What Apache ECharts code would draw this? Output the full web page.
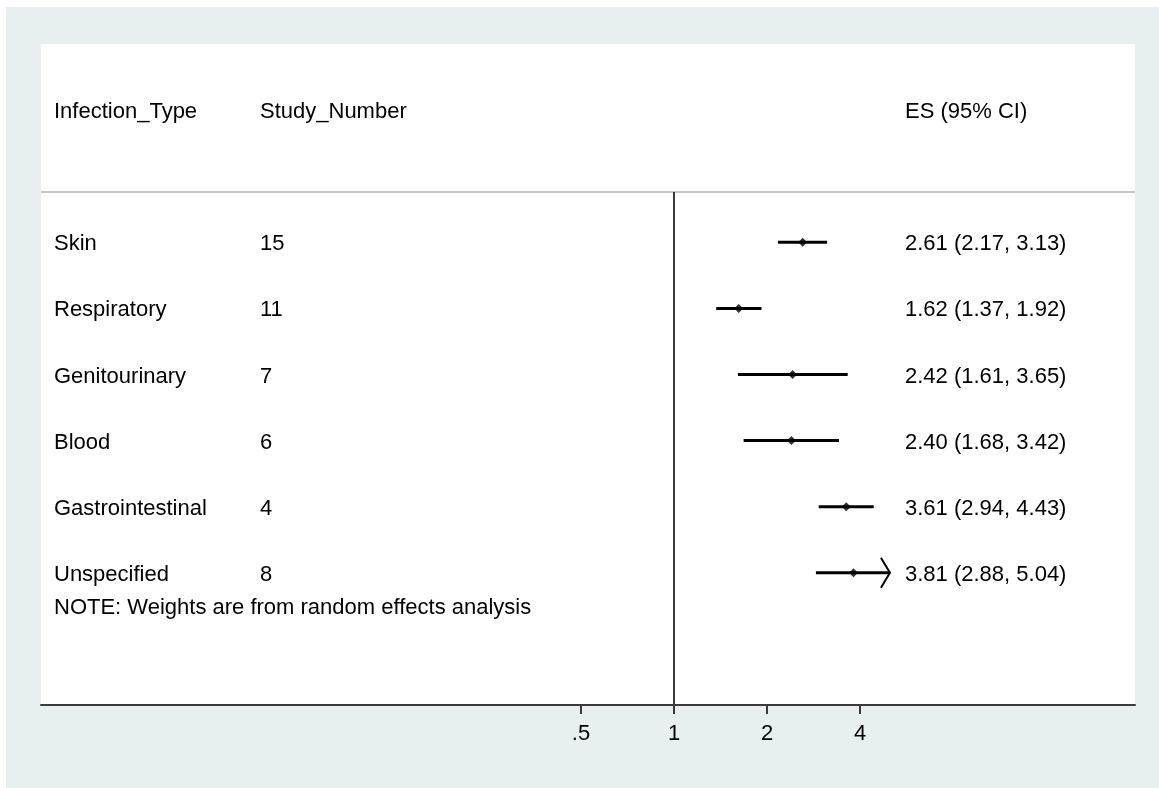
<!DOCTYPE html>
<html>
<head>
<meta charset="utf-8">
<script src="https://cdn.jsdelivr.net/npm/echarts@6/dist/echarts.min.js"></script>
<style>
  html, body { margin: 0; padding: 0; background: #ffffff; }
  #chart { position: absolute; left: 6px; top: 7px; width: 1153px; height: 781px; }
</style>
</head>
<body>
<div id="chart"></div>
<script>
// Subgroup meta-analysis: effect sizes with 95% CIs by infection type
const infectionTypes = ['Skin', 'Respiratory', 'Genitourinary', 'Blood', 'Gastrointestinal', 'Unspecified'];
const studyNumbers = [15, 11, 7, 6, 4, 8];
const esValues = [2.61, 1.62, 2.42, 2.40, 3.61, 3.81];
const ciLower = [2.17, 1.37, 1.61, 1.68, 2.94, 2.88];
const ciUpper = [3.13, 1.92, 3.65, 3.42, 4.43, 5.04];
const tickValues = [0.5, 1, 2, 4];
const tickLabels = ['.5', '1', '2', '4'];
const headers = ['Infection_Type', 'Study_Number', 'ES (95% CI)'];
const noteText = 'NOTE: Weights are from random effects analysis';

// CI lines past this value are cut and finished with an arrow head
const ciClip = 5;

// rows are laid out on a 0..10 vertical scale, first row at the top
const rowY = infectionTypes.map((_, i) => 7 - i);
const headerY = 9;
const separatorY = 7.76;
const noteY = 1.5;

const log2 = v => Math.log(v) / Math.LN2;
const fmt = v => v.toFixed(2);

const FONT = '"Liberation Sans", Arial, Helvetica, sans-serif';
const FS = 22;
const TEXT_DY = 2;
const colX = [13, 219, 864]; // text column offsets from the plot's left edge

const rows = infectionTypes.map((t, i) => [
  log2(esValues[i]), rowY[i], log2(ciLower[i]), log2(Math.min(ciUpper[i], ciClip)),
  ciUpper[i] > ciClip ? 1 : 0, i
]);

const chart = echarts.init(document.getElementById('chart'), null, { renderer: 'canvas' });

const textEl = (s, x, y) => ({
  type: 'text',
  style: { text: s, x: x, y: y + TEXT_DY, verticalAlign: 'middle', font: FS + 'px ' + FONT, fill: '#000' }
});

chart.setOption({
  backgroundColor: '#e8eff1',
  animation: false,
  grid: { left: 35, right: 24, top: 37, bottom: 83, show: true, backgroundColor: '#ffffff', borderWidth: 0 },
  xAxis: {
    type: 'value',
    min: -633 / 93,
    max: 461 / 93,
    splitLine: { show: false },
    axisLine: { show: true, onZero: false, lineStyle: { color: '#3a3a3a', width: 2 } },
    axisTick: { show: true, length: 9, customValues: tickValues.map(log2), lineStyle: { color: '#3a3a3a', width: 2 } },
    axisLabel: {
      customValues: tickValues.map(log2),
      margin: 18,
      fontFamily: FONT, fontSize: FS, color: '#000',
      formatter: v => {
        const k = tickValues.findIndex(t => Math.abs(log2(t) - v) < 1e-6);
        return k >= 0 ? tickLabels[k] : '';
      }
    }
  },
  yAxis: { type: 'value', min: 0, max: 10, show: false },
  series: [
    {
      // table text, separator and null line
      type: 'custom',
      silent: true,
      data: [[0, 0]],
      z: 1,
      renderItem: (params, api) => {
        const cs = params.coordSys;
        const children = [];
        const yH = api.coord([0, headerY])[1];
        headers.forEach((h, k) => children.push(textEl(h, cs.x + colX[k], yH)));
        const ySep = api.coord([0, separatorY])[1];
        children.push({ type: 'line', shape: { x1: cs.x, y1: ySep, x2: cs.x + cs.width, y2: ySep }, style: { stroke: '#c4c4c4', lineWidth: 2 } });
        const nullTop = api.coord([0, separatorY]);
        const nullBot = api.coord([0, 0]);
        children.push({ type: 'line', shape: { x1: nullTop[0], y1: nullTop[1], x2: nullBot[0], y2: nullBot[1] }, style: { stroke: '#3a3a3a', lineWidth: 2 } });
        infectionTypes.forEach((t, i) => {
          const y = api.coord([0, rowY[i]])[1];
          const cells = [t, String(studyNumbers[i]), fmt(esValues[i]) + ' (' + fmt(ciLower[i]) + ', ' + fmt(ciUpper[i]) + ')'];
          cells.forEach((c, k) => children.push(textEl(c, cs.x + colX[k], y)));
        });
        const yN = api.coord([0, noteY])[1];
        children.push(textEl(noteText, cs.x + colX[0], yN));
        return { type: 'group', children };
      }
    },
    {
      // confidence interval lines
      type: 'custom',
      silent: true,
      data: rows,
      z: 2,
      renderItem: (params, api) => {
        const y = api.value(1);
        const p1 = api.coord([api.value(2), y]);
        const p2 = api.coord([api.value(3), y]);
        const children = [{ type: 'line', shape: { x1: p1[0], y1: p1[1], x2: p2[0], y2: p2[1] }, style: { stroke: '#000', lineWidth: 3 } }];
        if (api.value(4)) {
          children.push({ type: 'polyline', shape: { points: [[p2[0] - 9, p2[1] - 15], [p2[0], p2[1]], [p2[0] - 9, p2[1] + 15]] }, style: { stroke: '#000', lineWidth: 2, fill: null } });
        }
        return { type: 'group', children };
      }
    },
    {
      // point estimates
      type: 'scatter',
      silent: true,
      data: rows.map(r => [r[0], r[1]]),
      symbol: 'diamond',
      symbolSize: 9,
      itemStyle: { color: '#000' },
      z: 3
    }
  ]
});
</script>
</body>
</html>
